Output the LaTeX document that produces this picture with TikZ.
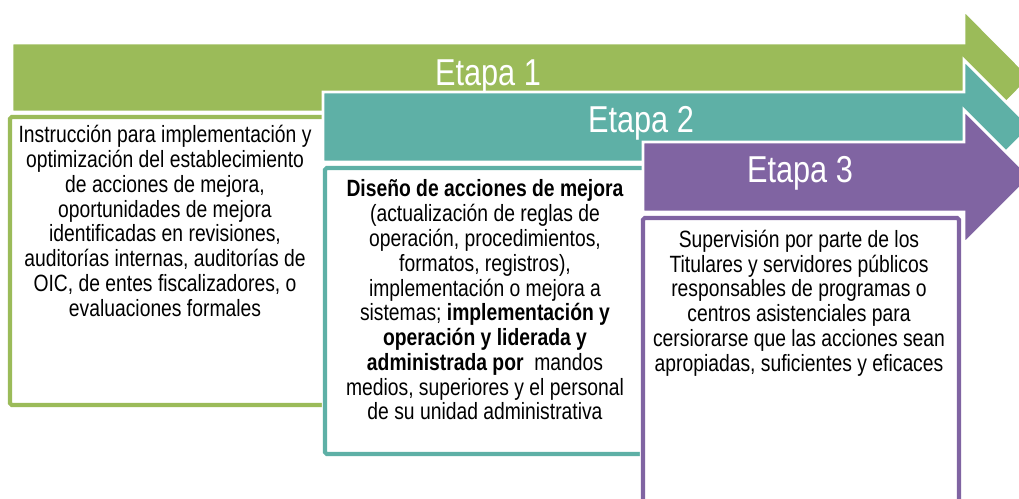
\documentclass[tikz,border=0pt]{standalone}
\usepackage{fontspec}
\setmainfont{Liberation Sans}[FakeStretch=0.82]
\usepackage{xcolor}
\usepackage{tikz}
\definecolor{etapaverde}{HTML}{9BBB59}
\definecolor{etapaturquesa}{HTML}{5EB0A6}
\definecolor{etapamorada}{HTML}{8064A2}

\tikzset{%
  flecha/.style={draw=white, line width=1.7pt, line join=miter},%
  caja/.style={fill=white, line width=2.3pt, rounded corners=1pt, preaction={draw=white, line width=3.6pt}},%
  titulo/.style={text=white, anchor=base, inner sep=0pt, font=\fontsize{21.3pt}{25pt}\selectfont},%
  texto/.style={align=center, inner sep=0pt, font=\fontsize{13.4pt}{14.1pt}\selectfont},%
}

\begin{document}
\begin{tikzpicture}[x=0.02cm, y=-0.02cm]%
\clip (0,0) rectangle (1019,498);%
\fill[white] (0,0) rectangle (1019,498);%
\fill[etapaverde, flecha] (12,43) -- (964,43) -- (964,10) -- (1031,77.5) -- (964,145) -- (964,112) -- (12,112) -- cycle;%
\node[titulo] (etapa1) at (488,85) {Etapa 1};%
\draw[caja, draw=etapaverde] (345,117) -- (10,117) -- (10,405) -- (345,405);%
\node[texto] (texto1) at (165,221) {Instrucción para implementación y\\optimización del establecimiento\\de acciones de mejora,\\oportunidades de mejora\\identificadas en revisiones,\\auditorías internas, auditorías de\\OIC, de entes fiscalizadores, o\\evaluaciones formales};%
\fill[etapaturquesa, flecha] (323,92) -- (964,92) -- (964,60) -- (1031,127) -- (964,194) -- (964,162) -- (323,162) -- cycle;%
\node[titulo] (etapa2) at (641,132) {Etapa 2};%
\draw[caja, draw=etapaturquesa] (660,168) -- (325,168) -- (325,454) -- (660,454);%
\node[texto] (texto2) at (485,300) {\textbf{Diseño de acciones de mejora}\\(actualización de reglas de\\operación, procedimientos,\\formatos, registros),\\implementación o mejora a\\sistemas; \textbf{implementación y}\\\textbf{operación y liderada y}\\\textbf{administrada por}\ \ mandos\\medios, superiores y el personal\\de su unidad administrativa};%
\fill[etapamorada, flecha] (643,142) -- (964,142) -- (964,110) -- (1031,177) -- (964,244) -- (964,212) -- (643,212) -- cycle;%
\node[titulo] (etapa3) at (800,182) {Etapa 3};%
\draw[caja, draw=etapamorada] (643,218) rectangle (959,530);%
\node[texto] (texto3) at (799,303) {Supervisión por parte de los\\Titulares y servidores públicos\\responsables de programas o\\centros asistenciales para\\cersiorarse que las acciones sean\\apropiadas, suficientes y eficaces};%
\end{tikzpicture}
\end{document}
